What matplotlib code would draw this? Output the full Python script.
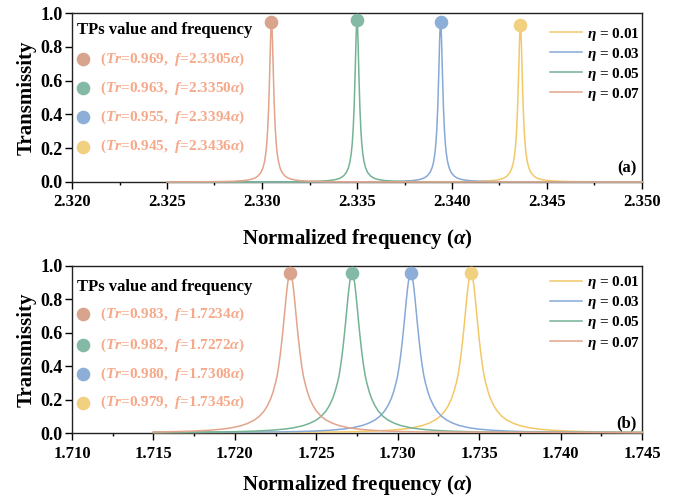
import numpy as np
import matplotlib
matplotlib.use("Agg")
import matplotlib.pyplot as plt
from matplotlib.ticker import MultipleLocator, FormatStrFormatter

plt.rcParams['font.family'] = ['Liberation Serif', 'DejaVu Serif']
plt.rcParams['font.weight'] = 'bold'
plt.rcParams['axes.labelweight'] = 'bold'
plt.rcParams['mathtext.fontset'] = 'custom'
plt.rcParams['mathtext.rm'] = 'Liberation Serif:bold'
plt.rcParams['mathtext.it'] = 'Liberation Serif:italic:bold'
plt.rcParams['mathtext.bf'] = 'Liberation Serif:bold'

# ---------------- data ----------------
eta_values = ['0.01', '0.03', '0.05', '0.07']
line_colors = ['#F3C868', '#86A9D8', '#74B394', '#E2A48B']
marker_colors = ['#F1D07F', '#8DAED6', '#84B9A5', '#D8A48E']
label_color = '#F6A98A'

# panel (a): offsets from each peak frequency (right half, mirrored below)
a_range = (2.325, 2.350)
a_tr = [0.945, 0.955, 0.963, 0.969]
a_freq = [2.3436, 2.3394, 2.3350, 2.3305]
a_half_offsets = [0.0, 0.000025, 0.00005, 0.0001, 0.00015, 0.0002, 0.00025, 0.0003,
                  0.00037, 0.00045, 0.00055, 0.0007, 0.00085, 0.0010, 0.0012,
                  0.0015, 0.0020, 0.0025, 0.0032, 0.0040]
a_y_001 = [0.928, 0.8992, 0.8230, 0.6145, 0.4321, 0.3052, 0.2215, 0.1659, 0.1162, 0.0819,
           0.0565, 0.0357, 0.0245, 0.0178, 0.0125, 0.0080, 0.0045, 0.0029, 0.0018, 0.0011]
a_y_003 = [0.948, 0.9186, 0.8408, 0.6278, 0.4414, 0.3118, 0.2263, 0.1695, 0.1187, 0.0837,
           0.0577, 0.0365, 0.0250, 0.0182, 0.0127, 0.0082, 0.0046, 0.0030, 0.0018, 0.0012]
a_y_005 = [0.958, 0.9283, 0.8497, 0.6344, 0.4460, 0.3151, 0.2287, 0.1713, 0.1199, 0.0846,
           0.0583, 0.0368, 0.0253, 0.0184, 0.0129, 0.0083, 0.0047, 0.0030, 0.0018, 0.0012]
a_y_007 = [0.948, 0.9186, 0.8408, 0.6278, 0.4414, 0.3118, 0.2263, 0.1695, 0.1187, 0.0837,
           0.0577, 0.0365, 0.0250, 0.0182, 0.0127, 0.0082, 0.0046, 0.0030, 0.0018, 0.0012]
a_tails = [(0.0002, 0.0004), (0.0003, 0.0003), (0.0004, 0.0002), (0.0006, 0.0002)]

# panel (b)
b_range = (1.715, 1.745)
b_tr = [0.979, 0.980, 0.982, 0.983]
b_freq = [1.7345, 1.7308, 1.7272, 1.7234]
b_half_offsets = [0.0, 0.00005, 0.0001, 0.00015, 0.0002, 0.00027, 0.00035, 0.00042, 0.0005,
                  0.0006, 0.0007, 0.0008, 0.0009, 0.00105, 0.0012, 0.0014, 0.0016, 0.0019,
                  0.0022, 0.0026, 0.0030, 0.0036, 0.0042, 0.0050, 0.0060, 0.0070, 0.0080]
b_y_001 = [0.958, 0.9514, 0.9321, 0.9017, 0.8622, 0.7967, 0.7148, 0.6429, 0.5654, 0.4790,
           0.4057, 0.3449, 0.3008, 0.2472, 0.2050, 0.1638, 0.1322, 0.0996, 0.0776, 0.0581,
           0.0443, 0.0310, 0.0230, 0.0163, 0.0114, 0.0084, 0.0064]
b_y_003 = [0.958, 0.9514, 0.9321, 0.9017, 0.8622, 0.7967, 0.7148, 0.6429, 0.5654, 0.4790,
           0.4057, 0.3449, 0.3008, 0.2472, 0.2050, 0.1638, 0.1322, 0.0996, 0.0776, 0.0581,
           0.0443, 0.0310, 0.0230, 0.0163, 0.0114, 0.0084, 0.0064]
b_y_005 = [0.958, 0.9514, 0.9321, 0.9017, 0.8622, 0.7967, 0.7148, 0.6429, 0.5654, 0.4790,
           0.4057, 0.3449, 0.3008, 0.2472, 0.2050, 0.1638, 0.1322, 0.0996, 0.0776, 0.0581,
           0.0443, 0.0310, 0.0230, 0.0163, 0.0114, 0.0084, 0.0064]
b_y_007 = [0.958, 0.9514, 0.9321, 0.9017, 0.8622, 0.7967, 0.7148, 0.6429, 0.5654, 0.4790,
           0.4057, 0.3449, 0.3008, 0.2472, 0.2050, 0.1638, 0.1322, 0.0996, 0.0776, 0.0581,
           0.0443, 0.0310, 0.0230, 0.0163, 0.0114, 0.0084, 0.0064]
b_tails = [(0.002, 0.005), (0.003, 0.003), (0.004, 0.003), (0.006, 0.002)]

panels = [
    dict(rng=a_range, tr=a_tr, freq=a_freq, off=a_half_offsets,
         ys=[a_y_001, a_y_003, a_y_005, a_y_007], tails=a_tails,
         xlim=(2.320, 2.350), tag='(a)'),
    dict(rng=b_range, tr=b_tr, freq=b_freq, off=b_half_offsets,
         ys=[b_y_001, b_y_003, b_y_005, b_y_007], tails=b_tails,
         xlim=(1.710, 1.745), tag='(b)'),
]

# ---------------- figure ----------------
W, H = 675, 504
fig = plt.figure(figsize=(W / 100, H / 100), dpi=100)
ax_a = fig.add_axes([72 / W, 1 - 182 / H, 570 / W, 169 / H])
ax_b = fig.add_axes([72 / W, 1 - 433 / H, 570 / W, 167 / H])
axes = [ax_a, ax_b]

title_y = [0.90, 0.876]
dot_y = [[0.726, 0.554, 0.383, 0.209], [0.713, 0.527, 0.353, 0.181]]
leg_top = [0.925, 0.950]
tag_y = [0.083, 0.06]
xlabel_pad = [12, 8]

for k, (ax, p) in enumerate(zip(axes, panels)):
    off = np.array(p['off'])
    for i in range(4):
        yh = np.array(p['ys'][i])
        x = np.r_[p['rng'][0], p['freq'][i] - off[:0:-1], p['freq'][i] + off, p['rng'][1]]
        y = np.r_[p['tails'][i][0], yh[:0:-1], yh, p['tails'][i][1]]
        ax.plot(x, y, color=line_colors[i], lw=1.1, zorder=3, clip_on=False,
                label=r'$\eta$ = ' + eta_values[i])
    for i in range(4):
        ax.plot([p['freq'][i]], [p['ys'][i][0]], 'o', ms=8.8, color=marker_colors[i],
                zorder=4, clip_on=False)

    ax.set_xlim(*p['xlim'])
    ax.set_ylim(0, 1.0)
    ax.xaxis.set_major_locator(MultipleLocator(0.005))
    ax.xaxis.set_minor_locator(MultipleLocator(0.0025))
    ax.yaxis.set_major_locator(MultipleLocator(0.2))
    ax.xaxis.set_major_formatter(FormatStrFormatter('%.3f'))
    ax.yaxis.set_major_formatter(FormatStrFormatter('%.1f'))
    ax.tick_params(axis='both', which='both', direction='out', top=False, right=False,
                   width=1.0)
    ax.tick_params(axis='x', which='major', length=5, pad=4, labelsize=12)
    ax.tick_params(axis='x', which='minor', length=2.5)
    ax.tick_params(axis='y', which='major', length=5, pad=1.5, labelsize=13)
    for s in ax.spines.values():
        s.set_linewidth(1.0)
        s.set_color('#222222')

    ax.set_ylabel('Transmissity', fontsize=15, labelpad=3)
    ax.set_xlabel(r'Normalized frequency ($\alpha$)', fontsize=15, labelpad=xlabel_pad[k])

    ax.legend(loc='upper right', bbox_to_anchor=(0.997, leg_top[k]), frameon=False,
              fontsize=11, handlelength=2.1, handletextpad=0.35, labelspacing=0.2,
              borderaxespad=0, borderpad=0)

    ax.text(0.009, title_y[k], 'TPs value and frequency', transform=ax.transAxes,
            fontsize=12, ha='left', va='center', color='black')
    order = [3, 2, 1, 0]
    for row, i in enumerate(order):
        ax.plot([0.0193], [dot_y[k][row]], 'o', ms=8.8, color=marker_colors[i],
                transform=ax.transAxes, clip_on=False, zorder=4)
        txt = (r'($\mathit{Tr}$=' + f"{p['tr'][i]:.3f}" + r',  $\mathit{f}$=' +
               f"{p['freq'][i]:.4f}" + r'$\alpha$)')
        ax.text(0.049, dot_y[k][row], txt, transform=ax.transAxes, fontsize=11,
                ha='left', va='center', color=label_color)

    ax.text(0.991, tag_y[k], p['tag'], transform=ax.transAxes, fontsize=12,
            ha='right', va='center', color='black')

fig.savefig('out.png', dpi=100)
